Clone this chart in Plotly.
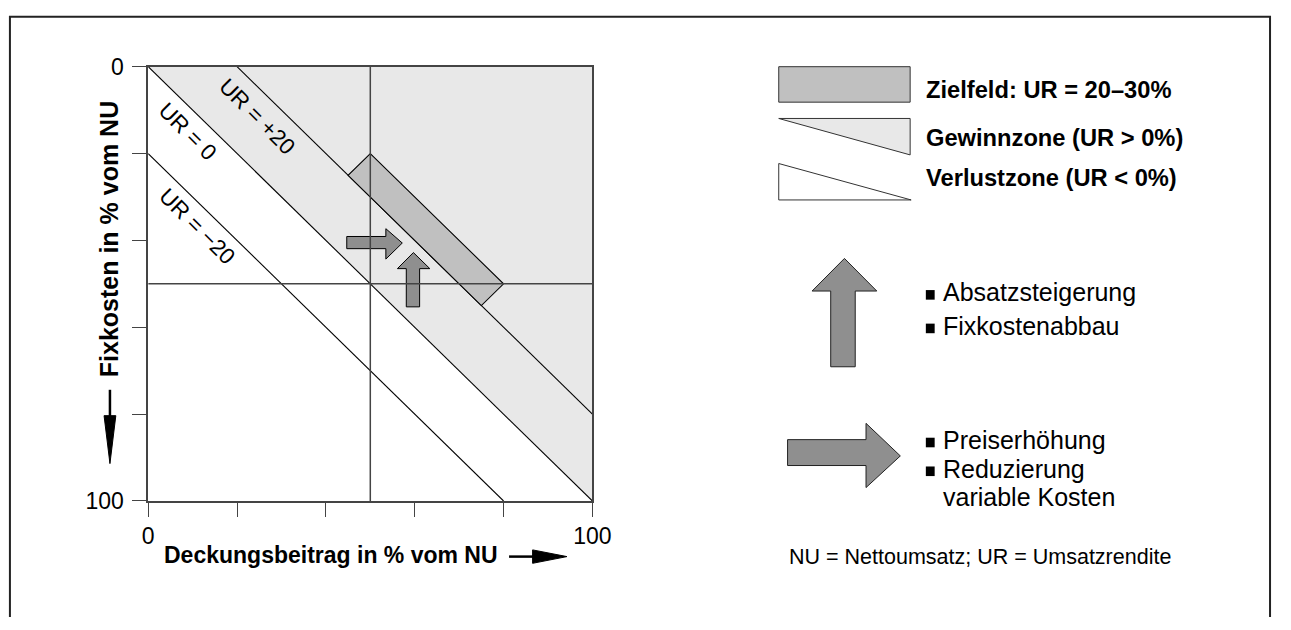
import plotly.graph_objects as go

W, H = 1291, 630
FONT = "Liberation Sans, Arial, Helvetica, sans-serif"

# ---------------- data ----------------
tick_vals = [0, 20, 40, 60, 80, 100]
tick_text = ["0", "", "", "", "", "100"]
grid_mid = [50]

ur_levels = [-20, 0, 20]
ur_labels = ["UR = \u221220", "UR = 0", "UR = +20"]
ur_label_x = [11.0, 8.8, 24.5]
ur_label_y = [36.8, 15.0, 11.5]

gewinn_x = [0, 100, 100]
gewinn_y = [0, 0, 100]

ziel_x = [50, 45, 75, 80]
ziel_y = [20, 25, 55, 50]

arrow_r_x = [44.7, 53.5, 53.5, 57.2, 53.5, 53.5, 44.7]
arrow_r_y = [39.1, 39.1, 37.3, 40.6, 44.3, 41.9, 41.9]
arrow_u_x = [58.1, 58.1, 56.1, 59.7, 63.4, 61.1, 61.1]
arrow_u_y = [55.3, 46.5, 46.5, 42.8, 46.5, 46.5, 55.3]

legend_labels = ["Zielfeld: UR = 20\u201330%", "Gewinnzone (UR > 0%)", "Verlustzone (UR < 0%)"]
up_items = ["Absatzsteigerung", "Fixkostenabbau"]
right_items = ["Preiserh\u00f6hung", "Reduzierung", "variable Kosten"]
footnote = "NU = Nettoumsatz; UR = Umsatzrendite"
x_title = "Deckungsbeitrag in % vom NU"
y_title = "Fixkosten in % vom NU"

# colours
C_GEWINN = "#e8e8e8"
C_ZIEL = "#c0c0c0"
C_ARROW = "#8f8f8f"
C_AXIS = "#444444"

# ---------------- layout helpers (pixel -> paper) ----------------
PL, PR, PT, PB = 145, 598, 56, 509


def px(x):
    return x / W


def py(y):
    return 1 - y / H


def path(points):
    return "M " + " L ".join(f"{px(a):.5f},{py(b):.5f}" for a, b in points) + " Z"


def open_path(points):
    return "M " + " L ".join(f"{px(a):.5f},{py(b):.5f}" for a, b in points)


fig = go.Figure()

# Gewinnzone
fig.add_trace(go.Scatter(x=gewinn_x, y=gewinn_y, fill="toself", fillcolor=C_GEWINN,
                         mode="none", hoverinfo="skip", showlegend=False))

# UR lines
for u in ur_levels:
    xs = [max(0, u), min(100, 100 + u)]
    ys = [x - u for x in xs]
    fig.add_trace(go.Scatter(x=xs, y=ys, mode="lines", line=dict(color="black", width=1.1),
                             hoverinfo="skip", showlegend=False))

# Zielfeld
fig.add_trace(go.Scatter(x=ziel_x + [ziel_x[0]], y=ziel_y + [ziel_y[0]], fill="toself",
                         fillcolor=C_ZIEL, mode="lines", line=dict(color="black", width=1.1),
                         hoverinfo="skip", showlegend=False))

# small arrows
for ax_, ay_ in [(arrow_r_x, arrow_r_y), (arrow_u_x, arrow_u_y)]:
    fig.add_trace(go.Scatter(x=ax_ + [ax_[0]], y=ay_ + [ay_[0]], fill="toself",
                             fillcolor=C_ARROW, mode="lines", line=dict(color="black", width=1),
                             hoverinfo="skip", showlegend=False))

shapes = []
# mid grid lines
for g in grid_mid:
    shapes.append(dict(type="line", xref="x", yref="y", x0=g, x1=g, y0=0, y1=100,
                       line=dict(color=C_AXIS, width=1.5), layer="above"))
    shapes.append(dict(type="line", xref="x", yref="y", x0=0, x1=100, y0=g, y1=g,
                       line=dict(color=C_AXIS, width=1.5), layer="above"))

# outer frame (bottom edge lies outside the picture)
shapes.append(dict(type="path", xref="paper", yref="paper",
                   path=open_path([(4, 630), (4, 4), (1289, 4), (1289, 630)]),
                   line=dict(color="#222222", width=2)))

# legend symbols
shapes.append(dict(type="path", xref="paper", yref="paper",
                   path=path([(788, 56), (922, 56), (922, 93), (788, 93)]),
                   fillcolor=C_ZIEL, line=dict(color="#333333", width=1)))
shapes.append(dict(type="path", xref="paper", yref="paper",
                   path=path([(788, 110), (922, 110), (922, 148)]),
                   fillcolor=C_GEWINN, line=dict(color="#333333", width=1)))
shapes.append(dict(type="path", xref="paper", yref="paper",
                   path=path([(788, 157), (923, 195), (788, 195)]),
                   fillcolor="white", line=dict(color="#333333", width=1)))

# big arrows
shapes.append(dict(type="path", xref="paper", yref="paper",
                   path=path([(841, 369), (841, 290), (822, 290), (855, 256), (888, 290), (866, 290), (866, 369)]),
                   fillcolor=C_ARROW, line=dict(color="#222222", width=1)))
shapes.append(dict(type="path", xref="paper", yref="paper",
                   path=path([(797, 445), (877, 445), (877, 428), (912, 462), (877, 495), (877, 472), (797, 472)]),
                   fillcolor=C_ARROW, line=dict(color="#222222", width=1)))

# axis title arrows
shapes.append(dict(type="line", xref="paper", yref="paper", x0=px(513), x1=px(545), y0=py(567), y1=py(567),
                   line=dict(color="black", width=2.5)))
shapes.append(dict(type="path", xref="paper", yref="paper",
                   path=path([(537, 560), (572, 567), (537, 574)]),
                   fillcolor="black", line=dict(color="black", width=1)))
shapes.append(dict(type="line", xref="paper", yref="paper", x0=px(106), x1=px(106), y0=py(393), y1=py(425),
                   line=dict(color="black", width=2.5)))
shapes.append(dict(type="path", xref="paper", yref="paper",
                   path=path([(100, 420), (112, 420), (106, 470)]),
                   fillcolor="black", line=dict(color="black", width=1)))

# bullet squares
bullet_baselines = [299, 334, 453, 483]
for b in bullet_baselines:
    shapes.append(dict(type="rect", xref="paper", yref="paper", x0=px(938), x1=px(947),
                       y0=py(b), y1=py(b - 10), fillcolor="black", line=dict(width=0)))

annotations = []
for lab, lx, ly in zip(ur_labels, ur_label_x, ur_label_y):
    annotations.append(dict(x=lx, y=ly, xref="x", yref="y", text=lab, showarrow=False, textangle=45,
                            font=dict(family=FONT, size=22.5, color="black")))

annotations.append(dict(x=px(159), y=py(565.5), xref="paper", yref="paper", text=f"<b>{x_title}</b>",
                        showarrow=False, xanchor="left", yanchor="middle",
                        font=dict(family=FONT, size=23, color="black")))
annotations.append(dict(x=px(105), y=py(236), xref="paper", yref="paper", text=f"<b>{y_title}</b>",
                        showarrow=False, textangle=-90, xanchor="center", yanchor="middle",
                        font=dict(family=FONT, size=25, color="black")))

for lab, yy in zip(legend_labels, [80, 130.5, 172.5]):
    annotations.append(dict(x=px(936), y=py(yy), xref="paper", yref="paper", text=f"<b>{lab}</b>",
                            showarrow=False, xanchor="left", yanchor="middle",
                            font=dict(family=FONT, size=23.7, color="black")))

for lab, yy in zip(up_items + right_items, [291.5, 326.5, 445.5, 475.5, 504.5]):
    annotations.append(dict(x=px(953), y=py(yy), xref="paper", yref="paper", text=lab,
                            showarrow=False, xanchor="left", yanchor="middle",
                            font=dict(family=FONT, size=25, color="black")))

annotations.append(dict(x=px(993), y=py(567), xref="paper", yref="paper", text=footnote,
                        showarrow=False, xanchor="center", yanchor="middle",
                        font=dict(family=FONT, size=21.5, color="black")))

axis_common = dict(tickvals=tick_vals, ticktext=tick_text, ticks="outside", ticklen=14,
                   tickwidth=1.4, tickcolor=C_AXIS, showline=True, linecolor=C_AXIS, linewidth=1.6,
                   mirror=True, showgrid=False, zeroline=False,
                   tickfont=dict(family=FONT, size=23, color="black"))

fig.update_layout(
    width=W, height=H, margin=dict(l=0, r=0, t=0, b=0),
    paper_bgcolor="white", plot_bgcolor="white",
    xaxis=dict(axis_common, range=[0, 100], domain=[PL / W, PR / W], fixedrange=True, ticklabelstandoff=0),
    yaxis=dict(axis_common, range=[100, 0], domain=[1 - PB / H, 1 - PT / H], fixedrange=True, ticklabelstandoff=4),
    shapes=shapes, annotations=annotations, showlegend=False,
)

POST = (
    "var h=document.documentElement.style;h.margin='0';h.padding='0';h.overflow='hidden';"
    "var b=document.body.style;b.margin='0';b.padding='0';b.overflow='hidden';"
    "var d=document.getElementById('{plot_id}');d.style.position='fixed';d.style.left='0px';d.style.top='0px';"
)

fig.write_html("out.html", config={"displayModeBar": False}, post_script=POST)
